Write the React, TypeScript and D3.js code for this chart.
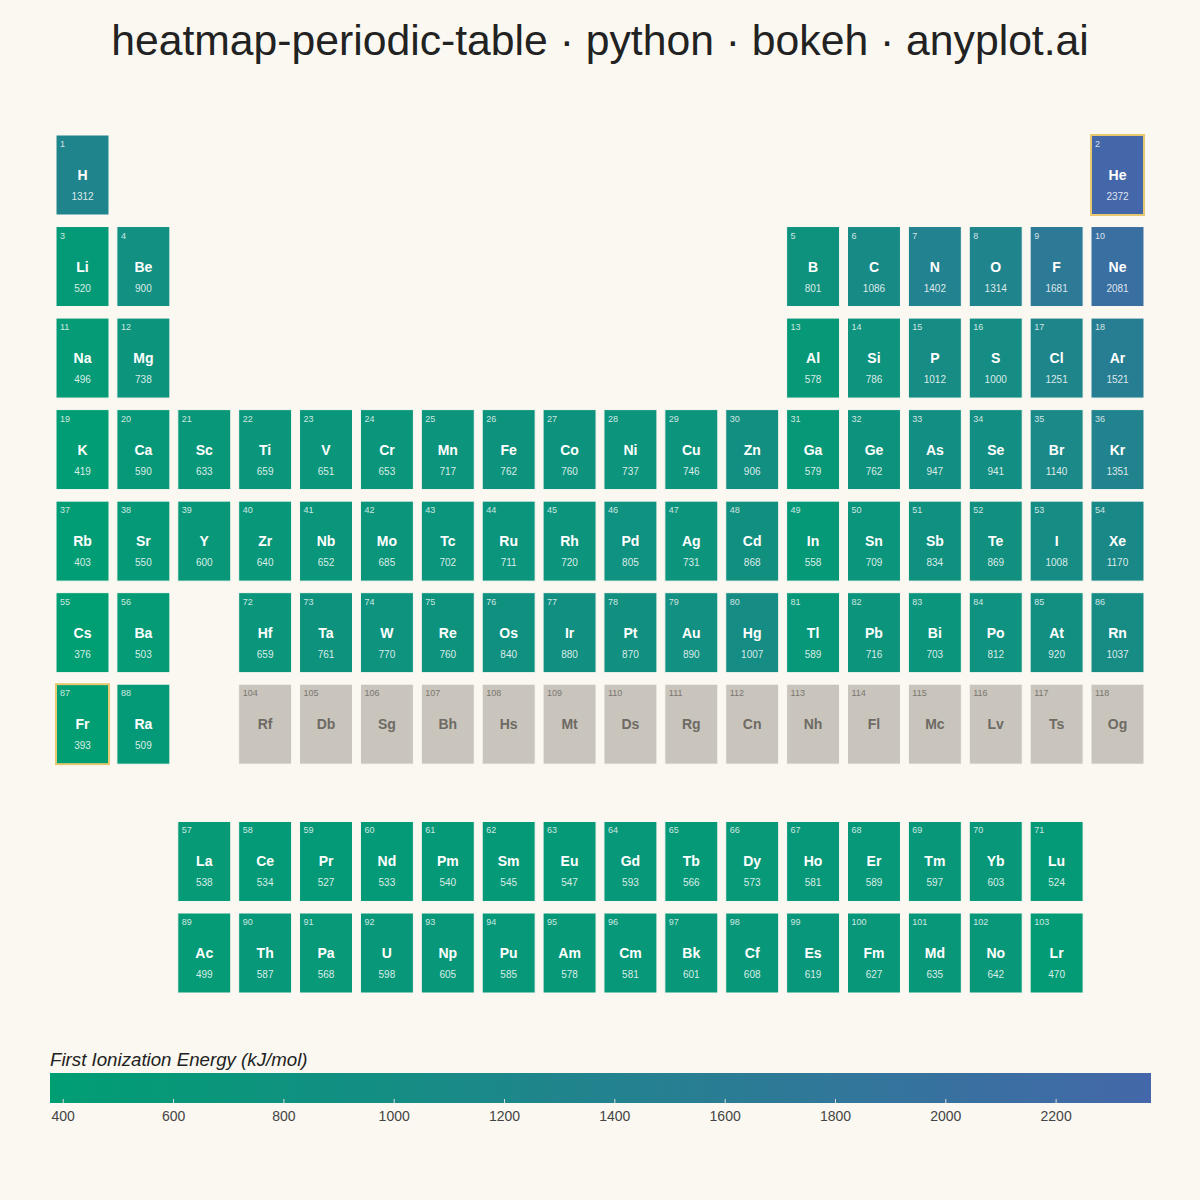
import React from "react";
import * as d3 from "d3";

const TITLE = "heatmap-periodic-table · python · bokeh · anyplot.ai";
const COLORBAR_LABEL = "First Ionization Energy (kJ/mol)";

const symbols = [
  "H","He","Li","Be","B","C","N","O","F","Ne",
  "Na","Mg","Al","Si","P","S","Cl","Ar",
  "K","Ca","Sc","Ti","V","Cr","Mn","Fe","Co","Ni","Cu","Zn","Ga","Ge","As","Se","Br","Kr",
  "Rb","Sr","Y","Zr","Nb","Mo","Tc","Ru","Rh","Pd","Ag","Cd","In","Sn","Sb","Te","I","Xe",
  "Cs","Ba","La","Ce","Pr","Nd","Pm","Sm","Eu","Gd","Tb","Dy","Ho","Er","Tm","Yb","Lu",
  "Hf","Ta","W","Re","Os","Ir","Pt","Au","Hg","Tl","Pb","Bi","Po","At","Rn",
  "Fr","Ra","Ac","Th","Pa","U","Np","Pu","Am","Cm","Bk","Cf","Es","Fm","Md","No","Lr",
  "Rf","Db","Sg","Bh","Hs","Mt","Ds","Rg","Cn","Nh","Fl","Mc","Lv","Ts","Og",
];

const energies: (number | null)[] = [
  1312, 2372, 520, 900, 801, 1086, 1402, 1314, 1681, 2081,
  496, 738, 578, 786, 1012, 1000, 1251, 1521,
  419, 590, 633, 659, 651, 653, 717, 762, 760, 737, 746, 906, 579, 762, 947, 941, 1140, 1351,
  403, 550, 600, 640, 652, 685, 702, 711, 720, 805, 731, 868, 558, 709, 834, 869, 1008, 1170,
  376, 503, 538, 534, 527, 533, 540, 545, 547, 593, 566, 573, 581, 589, 597, 603, 524,
  659, 761, 770, 760, 840, 880, 870, 890, 1007, 589, 716, 703, 812, 920, 1037,
  393, 509, 499, 587, 568, 598, 605, 585, 578, 581, 601, 608, 619, 627, 635, 642, 470,
  null, null, null, null, null, null, null, null, null, null, null, null, null, null, null,
];

const highlighted = [2, 87];
const colorbarTicks = [400, 600, 800, 1000, 1200, 1400, 1600, 1800, 2000, 2200];
const colorStops = ["#009E73", "#4467A9"];

function position(z: number): [number, number] {
  // returns [group (column), row]
  if (z === 1) return [1, 1];
  if (z === 2) return [18, 1];
  if (z <= 10) return [z <= 4 ? z - 2 : z + 8, 2];
  if (z <= 18) return [z <= 12 ? z - 10 : z, 3];
  if (z <= 36) return [z - 18, 4];
  if (z <= 54) return [z - 36, 5];
  if (z <= 56) return [z - 54, 6];
  if (z <= 71) return [z - 54, 8.5];
  if (z <= 86) return [z - 68, 6];
  if (z <= 88) return [z - 86, 7];
  if (z <= 103) return [z - 86, 9.5];
  return [z - 100, 7];
}

const FONT = "'Liberation Sans', Arial, Helvetica, sans-serif";

export default function App() {
  const W = 1200, H = 1200;
  const x = d3.scaleLinear().domain([1, 18]).range([82.5, 1117.5]);
  const y = d3.scaleLinear().domain([1, 9.5]).range([175, 953]);
  const pitchX = x(2) - x(1);
  const pitchY = y(2) - y(1);
  const cw = pitchX * 0.87;
  const ch = pitchY * 0.874;

  const vals = energies.filter((v): v is number => v !== null);
  const vmin = d3.min(vals)!;
  const vmax = d3.max(vals)!;
  const color = d3.scaleLinear<string>().domain([vmin, vmax]).range(colorStops).interpolate(d3.interpolateRgb);

  const cbX = d3.scaleLinear().domain([vmin, vmax]).range([50, 1151]);
  const cbY = 1073, cbH = 30;
  const gradStops = d3.range(0, 1.0001, 0.05);

  return (
    <svg width={W} height={H} style={{ display: "block", position: "fixed", left: 0, top: 0 }} fontFamily={FONT}>
      <defs>
        <linearGradient id="cb" x1="0" x2="1" y1="0" y2="0">
          {gradStops.map((t) => (
            <stop key={t} offset={t} stopColor={color(vmin + t * (vmax - vmin))} />
          ))}
        </linearGradient>
      </defs>
      <rect width={W} height={H} fill="#FAF8F1" />
      <text x={600} y={55} textAnchor="middle" fontSize={42.7} fill="#222">{TITLE}</text>

      {symbols.map((s, i) => {
        const z = i + 1;
        const [g, r] = position(z);
        const v = energies[i];
        const cx = x(g), cy = y(r);
        const x0 = cx - cw / 2, y0 = cy - ch / 2;
        const hl = highlighted.includes(z);
        const known = v !== null;
        return (
          <g key={z}>
            <rect x={x0} y={y0} width={cw} height={ch}
              fill={known ? color(v as number) : "#C9C5BD"}
              stroke={hl ? "#E8C870" : "#FAF8F1"} strokeWidth={hl ? 2 : 1} />
            <text x={x0 + 4} y={y0 + 12} fontSize={9} fill={known ? "rgba(255,255,255,0.8)" : "#7a7670"}>{z}</text>
            <text x={cx} y={cy + 5} textAnchor="middle" fontSize={14} fontWeight="bold" fill={known ? "#FFFFFF" : "#6E6A64"}>{s}</text>
            {known && (
              <text x={cx} y={cy + 25} textAnchor="middle" fontSize={10} fill="rgba(255,255,255,0.85)">{v}</text>
            )}
          </g>
        );
      })}

      <text x={50} y={1066} fontSize={18.7} fontStyle="italic" fill="#222">{COLORBAR_LABEL}</text>
      <rect x={50} y={cbY} width={1101} height={cbH} fill="url(#cb)" />
      {colorbarTicks.map((t) => (
        <g key={t}>
          <line x1={cbX(t)} x2={cbX(t)} y1={cbY + cbH - 4} y2={cbY + cbH} stroke="#dddddd" strokeWidth={1} />
          <text x={cbX(t)} y={1121} textAnchor="middle" fontSize={14} fill="#444">{t}</text>
        </g>
      ))}
    </svg>
  );
}
